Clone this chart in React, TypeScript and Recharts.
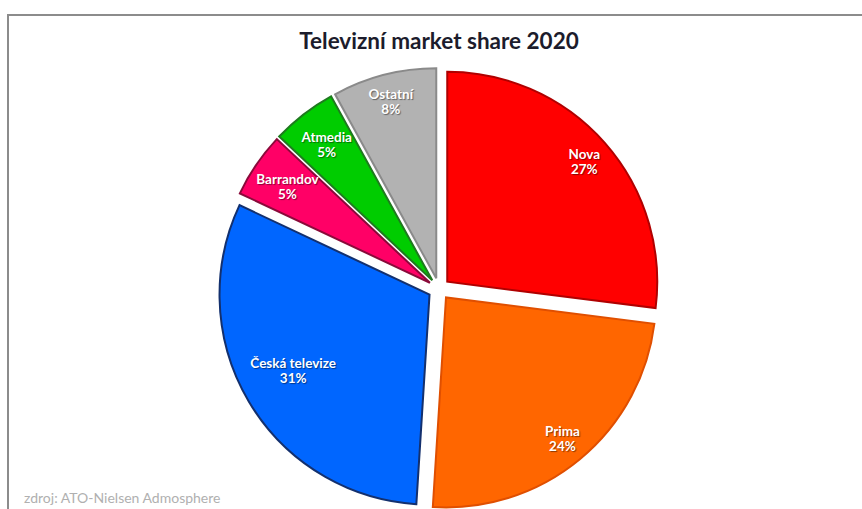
import { PieChart, Pie, Cell, Sector } from "recharts";

const channels = ["Nova", "Prima", "Česká televize", "Barrandov", "Atmedia", "Ostatní"];
const shares = [27, 24, 31, 5, 5, 8];
const fills = ["#ff0000", "#ff6600", "#0066ff", "#ff0066", "#00cc00", "#b2b2b2"];
const edges = ["#b00000", "#e04f00", "#13306e", "#8a0a3a", "#1f7a1f", "#8a8a8a"];

const data = channels.map((name, i) => ({ name, value: shares[i] }));

const EXPLODE = 11;
const RAD = Math.PI / 180;

function ExplodedSector(props: any) {
  const { cx, cy, midAngle } = props;
  const dx = EXPLODE * Math.cos(midAngle * RAD);
  const dy = -EXPLODE * Math.sin(midAngle * RAD);
  return <Sector {...props} cx={cx + dx} cy={cy + dy} />;
}

function renderLabel(props: any) {
  const { cx, cy, midAngle, outerRadius, name, value } = props;
  // long names and thin slices get pulled in toward the centre, like excel's best fit
  const long = name.length > 10;
  const k = long ? 0.71 : value <= 5 ? 0.82 : 0.87;
  const r = outerRadius * k + EXPLODE;
  const x = cx + r * Math.cos(midAngle * RAD) - (long ? 8 : 0);
  const y = cy - r * Math.sin(midAngle * RAD);
  return (
    <text
      x={x}
      y={y}
      textAnchor="middle"
      fill="#ffffff"
      fontFamily="Lato, sans-serif"
      fontWeight={700}
      fontSize={13.5}
      style={{ textShadow: "1px 1px 1px rgba(0,0,0,0.45)" }}
    >
      <tspan x={x} dy={-2}>{name}</tspan>
      <tspan x={x} dy={15}>{value}%</tspan>
    </text>
  );
}

export default function App() {
  return (
    <div style={{ position: "absolute", left: 0, top: 0, width: 862, height: 509, background: "#fff", overflow: "hidden" }}>
      <div
        style={{
          position: "absolute",
          left: 7,
          top: 14,
          width: 900,
          height: 600,
          borderTop: "2px solid #8c8c8c",
          borderLeft: "2px solid #8c8c8c",
        }}
      />
      <div
        style={{
          position: "absolute",
          left: 0,
          top: 27,
          width: 878,
          textAlign: "center",
          fontFamily: "Lato, sans-serif",
          fontWeight: 700,
          fontSize: 22.5,
          color: "#1c1c2c",
        }}
      >
        Televizní market share 2020
      </div>
      <div style={{ position: "absolute", left: 0, top: 0 }}>
        <PieChart width={862} height={509} margin={{ top: 0, right: 0, bottom: 0, left: 0 }}>
          <Pie
            data={data}
            dataKey="value"
            nameKey="name"
            cx={439}
            cy={289}
            outerRadius={210}
            startAngle={90}
            endAngle={-270}
            stroke="none"
            shape={ExplodedSector}
            label={renderLabel}
            labelLine={false}
            isAnimationActive={false}
          >
            {data.map((_, i) => (
              <Cell key={i} fill={fills[i]} stroke={edges[i]} strokeWidth={2} />
            ))}
          </Pie>
        </PieChart>
      </div>
      <div
        style={{
          position: "absolute",
          left: 24,
          top: 489,
          fontFamily: "Lato, sans-serif",
          fontSize: 14,
          color: "#b0b0b0",
        }}
      >
        zdroj: ATO-Nielsen Admosphere
      </div>
    </div>
  );
}
